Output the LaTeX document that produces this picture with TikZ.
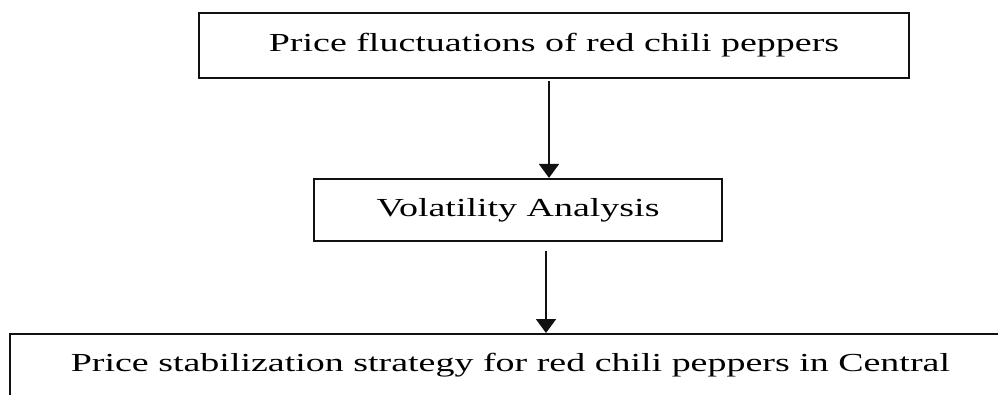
\documentclass[tikz,border=0pt]{standalone}
\usepackage{fontspec}
\setmainfont[FakeStretch=1.46]{Liberation Serif}
\usetikzlibrary{arrows.meta,positioning}
\definecolor{ink}{HTML}{111111}

\begin{document}
\begin{tikzpicture}[x=1pt,y=-1pt,
    flowbox/.style={draw=ink,line width=1.8pt,inner sep=0pt,
      font=\fontsize{26}{31}\selectfont},
    flowarrow/.style={ink,line width=2pt,-{Triangle[length=14pt,width=20pt]}}]
  \useasboundingbox (0,0) rectangle (998,394);
  \clip (0,0) rectangle (998,394);
  \node[flowbox,minimum width=710pt,minimum height=65pt] (fluct) at (554,45.5)
    {Price fluctuations of red chili peppers};
  \node[flowbox,minimum width=408pt,minimum height=62pt,
        below=99pt of fluct,xshift=-36pt] (vol)
    {Volatility Analysis};
  \node[flowbox,anchor=north west,minimum width=1001pt,
        text height=38pt,text depth=40pt] (strat) at (9,333)
    {Price stabilization strategy for red chili peppers in Central};
  \draw[flowarrow] ([xshift=-5pt,yshift=-2pt]fluct.south) -- ([xshift=31pt]vol.north);
  \draw[flowarrow] ([xshift=28pt,yshift=-9pt]vol.south) coordinate (gap)
    -- (gap |- strat.north);
\end{tikzpicture}
\end{document}
